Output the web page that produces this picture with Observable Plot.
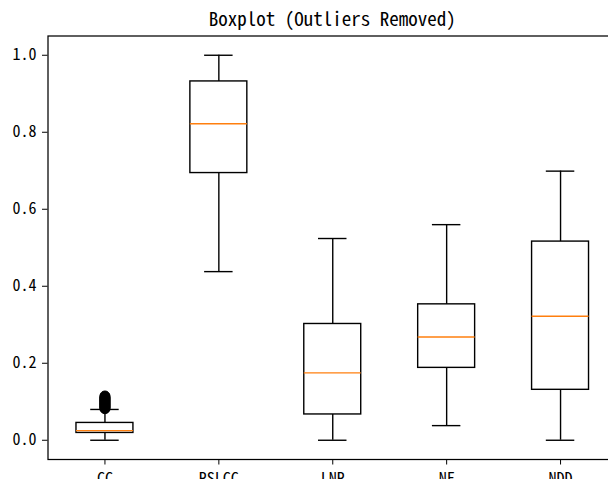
<!DOCTYPE html>
<html>
<head>
<meta charset="utf-8">
<script src="https://cdn.jsdelivr.net/npm/d3@7"></script>
<script src="https://cdn.jsdelivr.net/npm/@observablehq/plot@0.6"></script>
<style>
  html, body { margin: 0; padding: 0; background: #fff; overflow: hidden; width: 608px; height: 479px; }
  #title {
    box-sizing: border-box;
    width: 617px; height: 30px;
    padding-left: 47.5px; padding-top: 8px;
    text-align: center;
    font-family: "Noto Sans Mono CJK SC", "Noto Sans CJK SC", sans-serif;
    font-size: 19px; line-height: 19px; color: #000;
    white-space: nowrap;
  }
  #chart svg { display: block; }
</style>
</head>
<body>
<div id="title">Boxplot (Outliers Removed)</div>
<div id="chart"></div>
<script>
const categories = ["CC", "RSLCC", "LNR", "NF", "NDD"];
const lowerWhisker = [0.000, 0.438, 0.000, 0.038, 0.000];
const q1Values     = [0.019, 0.694, 0.067, 0.188, 0.131];
const medianValues = [0.025, 0.822, 0.175, 0.268, 0.322];
const q3Values     = [0.045, 0.932, 0.302, 0.353, 0.516];
const upperWhisker = [0.080, 1.000, 0.524, 0.560, 0.699];
const ccOutliers = [0.082, 0.084, 0.086, 0.088, 0.090, 0.092, 0.094, 0.096, 0.098, 0.100, 0.102, 0.104, 0.106, 0.108, 0.110, 0.112, 0.115];
const yTicks = [0.0, 0.2, 0.4, 0.6, 0.8, 1.0];

const boxes = categories.map((c, i) => ({
  cat: c, pos: i + 1,
  lo: lowerWhisker[i], q1: q1Values[i], med: medianValues[i], q3: q3Values[i], hi: upperWhisker[i]
}));
const outliers = ccOutliers.map(v => ({pos: 1, value: v}));
const halfBox = 0.25, halfCap = 0.125;
const font = "'Noto Sans Mono CJK SC', 'Noto Sans CJK SC', sans-serif";

const chart = Plot.plot({
  width: 608,
  height: 449,
  marginLeft: 47.5,
  marginRight: -9,
  marginTop: 5.5,
  marginBottom: 20,
  style: {fontFamily: font, fontSize: "16px", color: "#000", background: "#fff", overflow: "hidden"},
  x: {type: "linear", domain: [0.5, 5.5], ticks: [1, 2, 3, 4, 5], tickFormat: d => categories[d - 1], tickSize: 5.5, tickPadding: 8, label: null},
  y: {domain: [-0.05, 1.05], ticks: yTicks, tickFormat: d3.format(".1f"), tickSize: 5.5, tickPadding: 6, label: null},
  marks: [
    Plot.frame({stroke: "#000", strokeWidth: 1.25}),
    Plot.ruleX(boxes, {x: "pos", y1: "lo", y2: "q1", stroke: "#000", strokeWidth: 1.4}),
    Plot.ruleX(boxes, {x: "pos", y1: "q3", y2: "hi", stroke: "#000", strokeWidth: 1.4}),
    Plot.ruleY(boxes, {y: "lo", x1: d => d.pos - halfCap, x2: d => d.pos + halfCap, stroke: "#000", strokeWidth: 1.4}),
    Plot.ruleY(boxes, {y: "hi", x1: d => d.pos - halfCap, x2: d => d.pos + halfCap, stroke: "#000", strokeWidth: 1.4}),
    Plot.rect(boxes, {x1: d => d.pos - halfBox, x2: d => d.pos + halfBox, y1: "q1", y2: "q3", fill: "none", stroke: "#000", strokeWidth: 1.4}),
    Plot.ruleY(boxes, {y: "med", x1: d => d.pos - halfBox, x2: d => d.pos + halfBox, stroke: "#ff7f0e", strokeWidth: 1.4}),
    Plot.dot(outliers, {x: "pos", y: "value", r: 5, fill: "#000", stroke: "#000", strokeWidth: 1})
  ]
});
document.getElementById("chart").appendChild(chart);
</script>
</body>
</html>
